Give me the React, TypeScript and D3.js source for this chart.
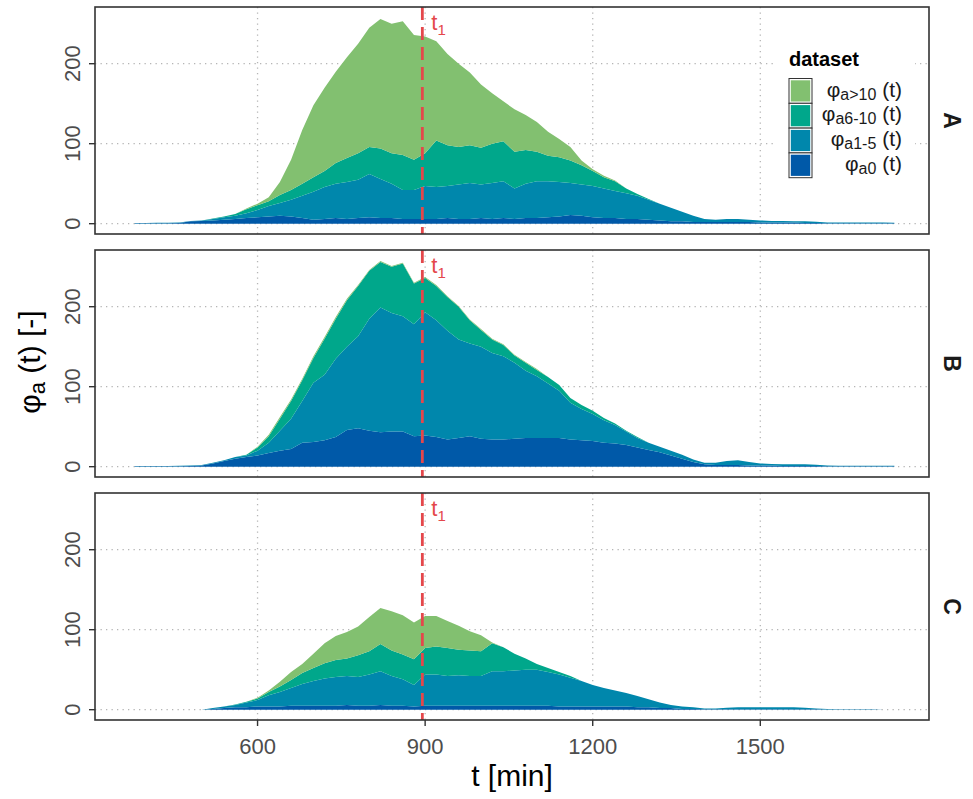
import React from "react";
import * as d3 from "d3";

// time axis (min), shared by all three panels
const times = [
  380, 400, 420, 440, 460, 480, 500, 520, 540, 560, 580, 600, 620, 640, 660, 680, 700, 720, 740, 760,
  780, 800, 820, 840, 860, 880, 900, 920, 940, 960, 980, 1000, 1020, 1040, 1060, 1080, 1100, 1120, 1140, 1160,
  1180, 1200, 1220, 1240, 1260, 1280, 1300, 1320, 1340, 1360, 1380, 1400, 1420, 1440, 1460, 1480, 1500, 1520, 1540, 1560,
  1580, 1600, 1620, 1640, 1660, 1680, 1700, 1720, 1740,
];

// panel A
const A_a0 = [
  0.5, 0.5, 0.5, 0.5, 1, 3, 3.5, 4, 5, 6, 7, 8, 9, 10, 9, 7, 5, 6, 7, 6,
  7, 8, 7, 7, 6, 6, 6, 6, 7, 6, 6, 7, 6, 7, 6, 7, 7, 8, 9, 11,
  10, 8, 7, 7, 6, 6, 5, 4, 3, 3, 2, 2, 2, 2, 2, 2, 1.5, 1.5, 1.5, 1.5,
  1, 1, 0.5, 0.5, 0.5, 0.5, 0.5, 0.5, 0.5,
];
const A_a15 = [
  0.5, 0.5, 0.7, 0.7, 0.5, 0.5, 0.5, 2, 3, 4, 6, 9, 13, 16, 21, 28, 35, 40, 43, 46,
  48, 54, 49, 43, 36, 36, 41, 40, 40, 43, 45, 42, 45, 46, 38, 43, 46, 45, 43, 40,
  39, 39, 37, 34, 32, 29, 25, 21, 17, 12, 8, 4, 3, 4, 4, 3, 2.5, 2, 2, 1.5,
  2, 1.5, 1, 1, 1, 1, 1, 1, 0.8,
];
const A_a610 = [
  0, 0, 0, 0, 0, 0, 0, 0.5, 1, 2, 5, 6, 6, 10, 12, 15, 18, 20, 26, 30,
  33, 34, 38, 38, 44, 38, 41, 58, 51, 47, 47, 46, 49, 50, 46, 42, 37, 32, 31, 28,
  24, 19, 14, 12, 6, 2, 1, 0, 0, 0, 0, 0, 0, 0, 0, 0, 0, 0, 0, 0,
  0, 0, 0, 0, 0, 0, 0, 0, 0,
];
const A_a10 = [
  0, 0, 0, 0, 0, 0, 0, 0, 0, 0, 1, 2, 5, 16, 38, 67, 90, 104, 114, 126,
  137, 149, 162, 162, 167, 156, 146, 124, 114, 104, 91, 79, 63, 50, 53, 44, 37, 30, 23, 17,
  6, 2, 2, 1, 0, 0, 0, 0, 0, 0, 0, 0, 0, 0, 0, 0, 0, 0, 0, 0,
  0, 0, 0, 0, 0, 0, 0, 0, 0,
];

// panel B
const B_a0 = [
  0.5, 0.5, 0.5, 0.5, 0.5, 0.8, 1.5, 4, 7, 10, 12, 14, 17, 20, 22, 30, 31, 33, 37, 46,
  48, 45, 43, 44, 44, 38, 39, 37, 34, 36, 38, 35, 34, 34, 35, 36, 36, 36, 36, 34,
  33, 32, 30, 29, 27, 24, 21, 18, 14, 10, 6, 3, 2, 2, 2, 1.5, 1.5, 1.5, 1, 1,
  1, 1, 0.5, 0.5, 0.5, 0.5, 0.5, 0.5, 0.5,
];
const B_a15 = [
  0.5, 0.5, 0.5, 0.5, 0.7, 0.7, 0.5, 1, 1, 2, 2, 6, 13, 25, 38, 52, 74, 82, 98, 104,
  115, 140, 156, 148, 144, 140, 154, 146, 136, 123, 116, 115, 108, 104, 95, 84, 77, 68, 59, 46,
  39, 34, 28, 23, 17, 12, 9, 7, 6, 5, 3, 2, 3, 5, 6, 4.5, 2.5, 2, 2, 2,
  2, 1.5, 1, 0.7, 0.7, 0.7, 0.7, 0.7, 0.7,
];
const B_a610 = [
  0, 0, 0, 0, 0, 0, 0, 0, 0, 0, 1, 4, 8, 15, 22, 26, 31, 45, 50, 58,
  63, 60, 57, 58, 66, 51, 43, 43, 42, 41, 29, 21, 17, 14, 9, 10, 8, 8, 7, 6,
  5, 4, 3, 2, 1, 1, 0, 0, 0, 0, 0, 0, 0, 0, 0, 0, 0, 0, 0, 0,
  0, 0, 0, 0, 0, 0, 0, 0, 0,
];
const B_a10 = [
  0, 0, 0, 0, 0, 0, 0, 0, 0, 0, 0, 1, 2, 2, 2, 2, 2, 2, 2, 2,
  1, 1, 1, 1, 1, 1, 1, 1, 1, 1, 1, 1, 1, 1, 1, 1, 1, 0, 0, 0,
  0, 0, 0, 0, 0, 0, 0, 0, 0, 0, 0, 0, 0, 0, 0, 0, 0, 0, 0, 0,
  0, 0, 0, 0, 0, 0, 0, 0, 0,
];

// panel C
const C_a0 = [
  0, 0, 0, 0, 0, 0, 0, 1, 2, 3, 3, 4, 4, 4, 5, 5, 5, 5, 5, 6,
  5, 5, 6, 5, 5, 4, 5, 5, 5, 5, 5, 5, 5, 5, 5, 5, 5, 5, 4, 4,
  4, 4, 4, 4, 4, 3, 3, 2, 2, 1, 1, 0.5, 0.5, 0.5, 0.5, 0.5, 0.5, 0.5, 0.5, 0.5,
  0.5, 0.5, 0.3, 0.3, 0.3, 0.3, 0.3, 0, 0,
];
const C_a15 = [
  0, 0, 0, 0, 0, 0, 0, 1, 2, 3, 6, 8, 14, 18, 22, 27, 31, 34, 36, 36,
  36, 39, 42, 37, 33, 27, 39, 39, 37, 38, 37, 37, 43, 43, 44, 45, 45, 42, 40, 36,
  32, 27, 23, 20, 17, 14, 10, 7, 4, 3, 2, 1, 1, 2, 2.5, 2.5, 2.5, 2.5, 2.5, 2.5,
  2, 1, 0.4, 0.2, 0.2, 0.2, 0.2, 0, 0,
];
const C_a610 = [
  0, 0, 0, 0, 0, 0, 0, 0, 0, 0.5, 1, 2, 4, 7, 10, 14, 16, 19, 21, 22,
  27, 29, 34, 32, 31, 32, 33, 35, 35, 32, 32, 31, 35, 30, 21, 14, 7, 5, 3, 2,
  0, 0, 0, 0, 0, 0, 0, 0, 0, 0, 0, 0, 0, 0, 0, 0, 0, 0, 0, 0,
  0, 0, 0, 0, 0, 0, 0, 0, 0,
];
const C_a10 = [
  0, 0, 0, 0, 0, 0, 0, 0, 0, 0, 0, 1, 2, 6, 10, 11, 18, 25, 30, 33,
  36, 43, 45, 49, 49, 46, 40, 38, 34, 30, 24, 20, 1, 0, 0, 0, 0, 0, 0, 0,
  0, 0, 0, 0, 0, 0, 0, 0, 0, 0, 0, 0, 0, 0, 0, 0, 0, 0, 0, 0,
  0, 0, 0, 0, 0, 0, 0, 0, 0,
];

const panelNames = ["A", "B", "C"];
const seriesKeys = ["a0", "a15", "a610", "a10"]; // bottom -> top
const seriesSubs: Record<string, string> = { a10: "a>10", a610: "a6-10", a15: "a1-5", a0: "a0" };
const seriesColors: Record<string, string> = {
  a10: "#82c070",
  a610: "#00a78b",
  a15: "#0087ac",
  a0: "#0059a8",
};
const xTicks = [600, 900, 1200, 1500];
const yTicks = [0, 100, 200];
const t1 = 895;

const panelData = [
  [A_a0, A_a15, A_a610, A_a10],
  [B_a0, B_a15, B_a610, B_a10],
  [C_a0, C_a15, C_a610, C_a10],
];

const W = 973;
const H = 799;
const left = 95;
const right = 929;
const panelTops = [7, 250, 493];
const panelH = 227;
const font = "'Liberation Sans', Arial, Helvetica, sans-serif";
const red = "#e4474b";

const x = d3.scaleLinear().domain([309, 1802]).range([left, right]);

export default function App() {
  const stack = d3.stack<any>().keys(seriesKeys);

  return (
    <div style={{ position: "absolute", left: 0, top: 0 }}>
      <svg width={W} height={H} style={{ display: "block", background: "#fff" }} fontFamily={font}>
        {panelData.map((arrs, pi) => {
          const top = panelTops[pi];
          const y = d3.scaleLinear().domain([-12.9, 270.9]).range([top + panelH, top]);
          const rows = times.map((t, i) => ({
            t,
            a0: arrs[0][i],
            a15: arrs[1][i],
            a610: arrs[2][i],
            a10: arrs[3][i],
          }));
          const layers = stack(rows);
          const area = d3
            .area<any>()
            .x((d) => x(d.data.t))
            .y0((d) => y(d[0]))
            .y1((d) => y(d[1]));
          return (
            <g key={pi}>
              {/* grid */}
              {xTicks.map((v) => (
                <line key={"gx" + v} x1={x(v)} x2={x(v)} y1={top} y2={top + panelH}
                  stroke="#b5b5b5" strokeWidth={1.3} strokeDasharray="1.3 4.2" />
              ))}
              {yTicks.map((v) => (
                <line key={"gy" + v} x1={left} x2={right} y1={y(v)} y2={y(v)}
                  stroke="#b5b5b5" strokeWidth={1.3} strokeDasharray="1.3 4.2" />
              ))}
              {/* stacked areas */}
              {layers.map((layer) => (
                <path key={layer.key} d={area(layer) || ""} fill={seriesColors[layer.key]} />
              ))}
              {/* t1 marker */}
              <line x1={x(t1)} x2={x(t1)} y1={top} y2={top + panelH}
                stroke={red} strokeWidth={2.8} strokeDasharray="13 7" />
              <text x={x(t1) + 9} y={top + 23} fill={red} fontSize={22}>
                t<tspan fontSize={15} dy={5}>1</tspan>
              </text>
              {/* y axis */}
              {yTicks.map((v) => (
                <g key={"yt" + v}>
                  <line x1={left - 6} x2={left} y1={y(v)} y2={y(v)} stroke="#333" strokeWidth={1.4} />
                  <text transform={`translate(80,${y(v)}) rotate(-90)`} textAnchor="middle"
                    fontSize={22} fill="#4d4d4d">{v}</text>
                </g>
              ))}
              {/* strip label */}
              <text transform={`translate(944,${top + panelH / 2}) rotate(90)`} textAnchor="middle"
                fontSize={23} fontWeight="bold" fill="#1a1a1a">{panelNames[pi]}</text>
              {/* legend inside panel A */}
              {pi === 0 && (
                <g>
                  <rect x={773} y={40} width={142} height={146} fill="#fff" />
                  <text x={789} y={66} fontSize={20} fontWeight="bold" fill="#000">dataset</text>
                  {[...seriesKeys].reverse().map((k, i) => {
                    const ky = 78.5 + i * 24.8;
                    return (
                      <g key={"lg" + k}>
                        <rect x={789} y={ky} width={23} height={24.8} fill="#fff" stroke="#333" strokeWidth={1} />
                        <rect x={790.8} y={ky + 1.8} width={19.4} height={21.2} fill={seriesColors[k]} />
                        <text x={902} y={ky + 18} textAnchor="end" fontSize={21} fill="#1a1a1a">
                          φ<tspan fontSize={16} dy={3}>{seriesSubs[k]}</tspan>
                          <tspan dy={-3}> (t)</tspan>
                        </text>
                      </g>
                    );
                  })}
                </g>
              )}
              {/* border */}
              <rect x={left} y={top} width={right - left} height={panelH} fill="none" stroke="#333" strokeWidth={1.6} />
            </g>
          );
        })}
        {/* x axis */}
        {xTicks.map((v) => (
          <g key={"xt" + v}>
            <line x1={x(v)} x2={x(v)} y1={panelTops[2] + panelH} y2={panelTops[2] + panelH + 6}
              stroke="#333" strokeWidth={1.4} />
            <text x={x(v)} y={754} textAnchor="middle" fontSize={22} fill="#4d4d4d">{v}</text>
          </g>
        ))}
        <text x={(left + right) / 2} y={786} textAnchor="middle" fontSize={30} fill="#000">t [min]</text>
        <text transform="translate(40,362) rotate(-90)" textAnchor="middle" fontSize={30} fill="#000">
          φ<tspan fontSize={22} dy={5}>a</tspan>
          <tspan dy={-5}> (t) [-]</tspan>
        </text>
      </svg>
    </div>
  );
}
